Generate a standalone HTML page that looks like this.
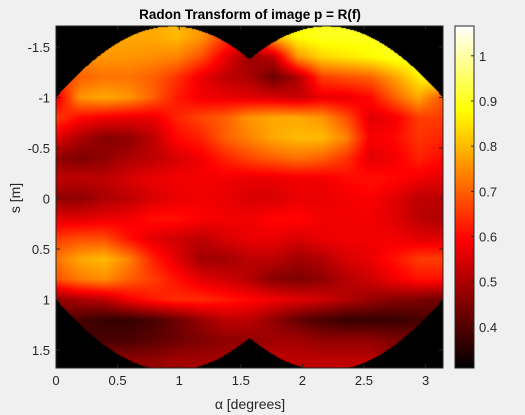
<!DOCTYPE html>
<html><head><meta charset="utf-8"><style>
body{margin:0;background:#f0f0f0;width:525px;height:415px;overflow:hidden;position:relative;font-family:"Liberation Sans",sans-serif}
canvas,svg{position:absolute;left:0;top:0}
</style></head><body>
<canvas id="hm" width="525" height="415"></canvas>
<svg id="ov" width="525" height="415"></svg>
<script>
const alphaMax = Math.PI;
const sMin = -1.708, sMax = 1.678;
const cMin = 0.309, cMax = 1.066;
const xTicks = [0,0.5,1,1.5,2,2.5,3];
const yTicks = [-1.5,-1,-0.5,0,0.5,1,1.5];
const cTicks = [0.4,0.5,0.6,0.7,0.8,0.9,1];
const sRows = [-1.6,-1.4,-1.2,-1.0,-0.8,-0.6,-0.4,-0.2,0,0.2,0.4,0.6,0.8,1.0,1.2,1.4,1.6];
const gridVals = [
[.78,.78,.78,.78,.78,.8,.76,.66,.58,.8,.88,.9,.9,.9,.9,.9,.9],
[.75,.75,.76,.76,.75,.74,.68,.57,.48,.52,.76,.83,.85,.87,.9,.9,.9],
[.66,.7,.72,.72,.7,.65,.57,.52,.5,.43,.5,.66,.68,.7,.77,.86,.9],
[.56,.76,.78,.76,.7,.62,.58,.57,.56,.55,.53,.57,.57,.6,.7,.78,.68],
[.66,.6,.58,.57,.57,.63,.67,.7,.76,.78,.78,.76,.68,.56,.58,.66,.66],
[.56,.5,.46,.47,.52,.6,.63,.7,.74,.78,.8,.8,.74,.58,.6,.65,.63],
[.47,.45,.47,.5,.52,.55,.58,.63,.67,.7,.72,.7,.65,.56,.58,.63,.6],
[.52,.52,.52,.55,.57,.58,.58,.58,.57,.57,.58,.58,.6,.61,.6,.58,.56],
[.47,.47,.5,.52,.55,.57,.58,.57,.55,.55,.57,.57,.58,.59,.56,.52,.52],
[.56,.56,.57,.58,.61,.61,.59,.58,.58,.6,.6,.58,.58,.58,.56,.52,.5],
[.66,.68,.68,.61,.56,.54,.52,.55,.57,.57,.55,.57,.58,.58,.58,.56,.56],
[.72,.78,.8,.74,.63,.56,.49,.49,.52,.52,.49,.51,.55,.57,.61,.66,.66],
[.68,.73,.75,.7,.66,.61,.56,.54,.51,.46,.45,.47,.51,.54,.58,.61,.61],
[.47,.5,.52,.58,.62,.64,.64,.62,.6,.58,.56,.54,.51,.48,.46,.45,.43],
[.42,.39,.37,.37,.39,.43,.48,.52,.52,.47,.42,.39,.37,.37,.37,.39,.4],
[.4,.39,.39,.39,.41,.43,.45,.47,.47,.49,.49,.47,.47,.47,.45,.43,.43],
[.47,.47,.47,.47,.47,.49,.49,.49,.49,.52,.52,.52,.52,.52,.47,.47,.47]];
const halfA = 1.0, halfB = 1.38;

const L=56,R=443,T=26,B=368, CL=455, CR=474;
const xS = a => L + a/alphaMax*(R-L);
const yS = s => T + (s-sMin)/(sMax-sMin)*(B-T);
const cY = v => B - (v-cMin)/(cMax-cMin)*(B-T);
function hotRGB(v){let t=(v-cMin)/(cMax-cMin);t=Math.max(0,Math.min(1,t));
 return [Math.min(1,t/0.375),Math.max(0,Math.min(1,(t-0.375)/0.375)),Math.max(0,Math.min(1,(t-0.75)/0.25))].map(c=>Math.round(c*255));}
function hot(v){const c=hotRGB(v);return `rgb(${c[0]},${c[1]},${c[2]})`;}

const ctx=document.getElementById('hm').getContext('2d');
const nr=gridVals.length, nc=gridVals[0].length;
const W=R-L,H=B-T;
const img=ctx.createImageData(W,H);
for(let py=0;py<H;py++){
 const s=sMin+(py+0.5)/H*(sMax-sMin);
 let fr=(s-sRows[0])/(sRows[1]-sRows[0]);fr=Math.max(0,Math.min(nr-1,fr));
 const r0=Math.min(nr-2,Math.floor(fr)),tr=fr-r0;
 for(let px=0;px<W;px++){
  const a=(px+0.5)/W*alphaMax;
  const e=halfA*Math.abs(Math.cos(a))+halfB*Math.abs(Math.sin(a));
  const k=(py*W+px)*4;img.data[k+3]=255;
  if(Math.abs(s)>e){continue;}
  const fc=a/alphaMax*(nc-1);const c0=Math.min(nc-2,Math.floor(fc)),tc=fc-c0;
  const v=(gridVals[r0][c0]*(1-tc)+gridVals[r0][c0+1]*tc)*(1-tr)+(gridVals[r0+1][c0]*(1-tc)+gridVals[r0+1][c0+1]*tc)*tr;
  const c=hotRGB(v);img.data[k]=c[0];img.data[k+1]=c[1];img.data[k+2]=c[2];
 }}
ctx.putImageData(img,L,T);
const g=ctx.createLinearGradient(0,B,0,T);
for(let k=0;k<=50;k++){const v=cMin+(cMax-cMin)*k/50;g.addColorStop(k/50,hot(v));}
ctx.fillStyle=g;ctx.fillRect(CL,T,CR-CL,B-T);

const svg=document.getElementById('ov');const NS='http://www.w3.org/2000/svg';
function el(t,at,txt){const e=document.createElementNS(NS,t);for(const k in at)e.setAttribute(k,at[k]);if(txt!==undefined)e.textContent=txt;svg.appendChild(e);return e;}
let e;
e=el('rect',{x:L,y:T,width:R-L,height:B-T,fill:'none',stroke:'#262626','stroke-width':1});

e=el('rect',{x:CL,y:T,width:CR-CL,height:B-T,fill:'none',stroke:'#262626','stroke-width':1});

xTicks.forEach(v=>{const x=xS(v);
 el('line',{x1:x,y1:B,x2:x,y2:B-4,stroke:'#262626'});el('line',{x1:x,y1:T,x2:x,y2:T+4,stroke:'#262626'});
 e=el('text',{x:x,y:B+17,'text-anchor':'middle','font-size':13,fill:'#262626'},String(v));
 });
yTicks.forEach(v=>{const y=yS(v);
 el('line',{x1:L,y1:y,x2:L+4,y2:y,stroke:'#262626'});el('line',{x1:R,y1:y,x2:R-4,y2:y,stroke:'#262626'});
 e=el('text',{x:L-6,y:y+5,'text-anchor':'end','font-size':13,fill:'#262626'},String(v));
 });
cTicks.forEach(v=>{const y=cY(v);
 el('line',{x1:CR,y1:y,x2:CR-3,y2:y,stroke:'#262626'});
 e=el('text',{x:CR+5,y:y+5,'font-size':13,fill:'#262626'},String(v));
 });
e=el('text',{x:250,y:19,'text-anchor':'middle','font-size':13.5,'font-weight':'bold',fill:'#000'},'Radon Transform of image p = R(f)');

e=el('text',{x:250,y:409,'text-anchor':'middle','font-size':14,fill:'#262626'},'α [degrees]');

e=el('text',{x:20,y:198,'text-anchor':'middle','font-size':14,fill:'#262626',transform:'rotate(-90 20 198)'},'s [m]');

</script>
</body></html>
